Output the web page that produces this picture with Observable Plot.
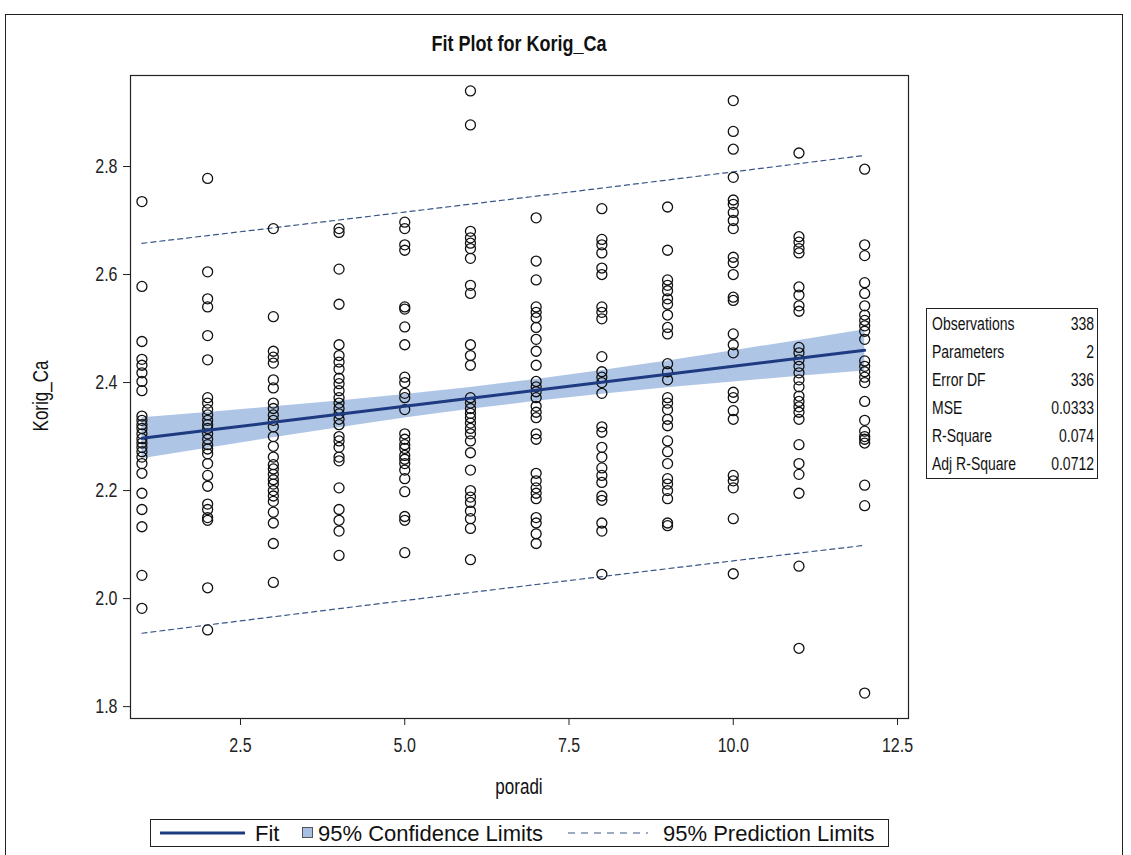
<!DOCTYPE html>
<html>
<head>
<meta charset="utf-8">
<script src="https://cdn.jsdelivr.net/npm/d3@7"></script>
<script src="https://cdn.jsdelivr.net/npm/@observablehq/plot@0.6"></script>
<style>
  html, body { margin: 0; padding: 0; background: #fff; overflow: hidden; }
  body { width: 1131px; height: 855px; position: relative; font-family: "Liberation Sans", Arial, sans-serif; color: #111; }
  #outer { position: absolute; left: 5px; top: 14px; width: 1118px; height: 900px; border: 1.5px solid #222; box-sizing: border-box; }
  #chart { position: absolute; left: 0; top: 0; }
  .tall { display: inline-block; transform-origin: 50% 50%; }
  #title { position: absolute; left: 0; width: 1038px; top: 34px; text-align: center; font-weight: bold; font-size: 18px; }
  #xlabel { position: absolute; left: 0; width: 1038px; top: 778px; text-align: center; font-size: 17px; }
  #ylabel { position: absolute; left: 42px; top: 396px; font-size: 17px; white-space: nowrap; }
  #stats { position: absolute; left: 926px; top: 308px; width: 172px; height: 171px; border: 1px solid #222; box-sizing: border-box; font-size: 14px; }
  #stats .row { position: absolute; left: 0; right: 0; height: 28px; line-height: 28px; }
  #stats .k { position: absolute; left: 5px; }
  #stats .v { position: absolute; right: 3px; }
  #legend { position: absolute; left: 150px; top: 819px; }
</style>
</head>
<body>
<div id="outer"></div>
<div id="chart"></div>
<div id="title"><span class="tall">Fit Plot for Korig_Ca</span></div>
<div id="xlabel"><span class="tall">poradi</span></div>
<div id="ylabel"></div>
<div id="stats"></div>
<svg id="legend" width="740" height="28"></svg>
<script>
// Measurement order (x) and Korig_Ca values measured at each position
const poradiValues = [1, 2, 3, 4, 5, 6, 7, 8, 9, 10, 11, 12];
const korigCa01 = [2.735, 2.578, 2.476, 2.443, 2.432, 2.418, 2.402, 2.385, 2.338, 2.330, 2.322, 2.315, 2.305, 2.296, 2.288, 2.280, 2.272, 2.262, 2.250, 2.232, 2.195, 2.165, 2.133, 2.043, 1.982];
const korigCa02 = [2.778, 2.605, 2.555, 2.540, 2.487, 2.442, 2.372, 2.362, 2.350, 2.340, 2.330, 2.322, 2.315, 2.305, 2.295, 2.285, 2.277, 2.268, 2.250, 2.228, 2.208, 2.175, 2.165, 2.150, 2.145, 2.020, 1.942];
const korigCa03 = [2.685, 2.522, 2.458, 2.447, 2.436, 2.405, 2.390, 2.362, 2.352, 2.340, 2.330, 2.318, 2.300, 2.282, 2.262, 2.248, 2.240, 2.230, 2.220, 2.212, 2.200, 2.190, 2.180, 2.160, 2.140, 2.102, 2.030];
const korigCa04 = [2.685, 2.678, 2.610, 2.545, 2.470, 2.450, 2.438, 2.425, 2.408, 2.398, 2.385, 2.372, 2.362, 2.352, 2.342, 2.332, 2.322, 2.300, 2.292, 2.280, 2.262, 2.255, 2.205, 2.165, 2.145, 2.125, 2.080];
const korigCa05 = [2.697, 2.685, 2.655, 2.645, 2.540, 2.536, 2.503, 2.470, 2.410, 2.400, 2.380, 2.372, 2.350, 2.305, 2.295, 2.285, 2.278, 2.265, 2.258, 2.250, 2.238, 2.222, 2.198, 2.152, 2.145, 2.085];
const korigCa06 = [2.940, 2.877, 2.680, 2.668, 2.658, 2.648, 2.630, 2.580, 2.565, 2.470, 2.450, 2.432, 2.372, 2.362, 2.352, 2.343, 2.335, 2.325, 2.315, 2.305, 2.292, 2.270, 2.238, 2.200, 2.188, 2.178, 2.162, 2.148, 2.130, 2.072];
const korigCa07 = [2.705, 2.625, 2.590, 2.540, 2.530, 2.520, 2.502, 2.480, 2.458, 2.432, 2.402, 2.392, 2.383, 2.372, 2.356, 2.345, 2.335, 2.305, 2.295, 2.232, 2.218, 2.205, 2.195, 2.185, 2.150, 2.140, 2.120, 2.102];
const korigCa08 = [2.722, 2.665, 2.655, 2.640, 2.612, 2.600, 2.540, 2.530, 2.518, 2.448, 2.420, 2.410, 2.400, 2.380, 2.318, 2.308, 2.280, 2.262, 2.242, 2.228, 2.215, 2.190, 2.182, 2.140, 2.125, 2.045];
const korigCa09 = [2.725, 2.645, 2.590, 2.580, 2.570, 2.555, 2.545, 2.525, 2.502, 2.490, 2.435, 2.420, 2.405, 2.372, 2.362, 2.350, 2.332, 2.320, 2.292, 2.272, 2.250, 2.222, 2.212, 2.200, 2.185, 2.140, 2.135];
const korigCa10 = [2.922, 2.865, 2.832, 2.780, 2.738, 2.730, 2.715, 2.700, 2.685, 2.632, 2.622, 2.600, 2.558, 2.552, 2.490, 2.470, 2.455, 2.382, 2.372, 2.348, 2.332, 2.228, 2.218, 2.205, 2.148, 2.046];
const korigCa11 = [2.825, 2.670, 2.660, 2.648, 2.640, 2.577, 2.562, 2.542, 2.532, 2.465, 2.455, 2.442, 2.430, 2.418, 2.405, 2.392, 2.375, 2.365, 2.355, 2.345, 2.332, 2.285, 2.250, 2.230, 2.195, 2.060, 1.908];
const korigCa12 = [2.795, 2.655, 2.635, 2.585, 2.565, 2.542, 2.525, 2.515, 2.505, 2.495, 2.480, 2.440, 2.430, 2.420, 2.410, 2.400, 2.365, 2.330, 2.310, 2.300, 2.295, 2.288, 2.210, 2.172, 1.825];

// Fitted regression line and its fit statistics
const fitIntercept = 2.282;
const fitSlope = 0.0148;
const statLabels = ["Observations", "Parameters", "Error DF", "MSE", "R-Square", "Adj R-Square"];
const statValues = ["338", "2", "336", "0.0333", "0.074", "0.0712"];
const tCritical = 1.967; // t(0.975, 336)

// Axis ticks
const xTicks = [2.5, 5.0, 7.5, 10.0, 12.5];
const yTicks = [1.8, 2.0, 2.2, 2.4, 2.6, 2.8];

const FONT = '"Liberation Sans", Arial, sans-serif';
const STRETCH = 1.25; // glyphs are drawn taller than wide

const columns = [korigCa01, korigCa02, korigCa03, korigCa04, korigCa05, korigCa06,
                 korigCa07, korigCa08, korigCa09, korigCa10, korigCa11, korigCa12];
const points = columns.flatMap((ys, i) => ys.map(y => ({poradi: poradiValues[i], korig: y})));

// Confidence and prediction limits around the fit
const mse = +statValues[3];
const n = points.length;
const xbar = d3.mean(points, d => d.poradi);
const sxx = d3.sum(points, d => (d.poradi - xbar) ** 2);
const band = poradiValues.map(x => {
  const fit = fitIntercept + fitSlope * x;
  const lev = 1 / n + (x - xbar) ** 2 / sxx;
  const ci = tCritical * Math.sqrt(mse * lev);
  const pi = tCritical * Math.sqrt(mse * (1 + lev));
  return {poradi: x, fit, ciLo: fit - ci, ciHi: fit + ci, piLo: fit - pi, piHi: fit + pi};
});

const fmt1 = d3.format(".1f");
const BAND_FILL = "#a6bfe3";
const FIT_STROKE = "#1e3a80";
const PRED_STROKE = "#3a5688";

const chart = Plot.plot({
  width: 1131,
  height: 805,
  marginLeft: 130,
  marginRight: 223,
  marginTop: 75,
  marginBottom: 87,
  x: {domain: [0.826, 12.667]},
  y: {domain: [1.778, 2.9685]},
  style: {fontFamily: FONT, background: "transparent", color: "#222", overflow: "visible"},
  marks: [
    Plot.areaY(band, {x: "poradi", y1: "ciLo", y2: "ciHi", fill: BAND_FILL, fillOpacity: 0.9}),
    Plot.line(band, {x: "poradi", y: "piLo", stroke: PRED_STROKE, strokeWidth: 1.2, strokeDasharray: "5,4"}),
    Plot.line(band, {x: "poradi", y: "piHi", stroke: PRED_STROKE, strokeWidth: 1.2, strokeDasharray: "5,4"}),
    Plot.dot(points, {x: "poradi", y: "korig", r: 5, stroke: "#111", strokeWidth: 1.3}),
    Plot.line(band, {x: "poradi", y: "fit", stroke: FIT_STROKE, strokeWidth: 3}),
    Plot.frame({stroke: "#222", strokeWidth: 1.2}),
    Plot.axisX({ticks: xTicks, tickFormat: fmt1, tickSize: 7, tickPadding: 12, fontSize: 16, label: null}),
    Plot.axisY({ticks: yTicks, tickFormat: fmt1, tickSize: 7, tickPadding: 6, fontSize: 16, label: null})
  ]
});
document.getElementById("chart").appendChild(chart);

// Stretch axis tick labels vertically about their anchor points
chart.querySelectorAll("g[aria-label$='tick label'] text").forEach(t => {
  const tr = t.getAttribute("transform") || "";
  t.setAttribute("transform", tr + ` scale(1,${STRETCH})`);
});

document.querySelectorAll(".tall").forEach(s => s.style.transform = `scaleY(${STRETCH})`);

// Y axis label, rotated
const yl = document.getElementById("ylabel");
const ySpan = document.createElement("span");
ySpan.textContent = "Korig_Ca";
ySpan.style.position = "absolute";
ySpan.style.transform = `translate(-50%,-50%) rotate(-90deg) scaleY(${STRETCH})`;
yl.appendChild(ySpan);

// Fit statistics table
const stats = document.getElementById("stats");
statLabels.forEach((label, i) => {
  const row = document.createElement("div");
  row.className = "row";
  row.style.top = (i * 28 + 1) + "px";
  const k = document.createElement("span");
  k.className = "k tall";
  k.textContent = label;
  k.style.transform = `scaleY(${STRETCH})`;
  const v = document.createElement("span");
  v.className = "v tall";
  v.textContent = statValues[i];
  v.style.transform = `scaleY(${STRETCH})`;
  row.appendChild(k);
  row.appendChild(v);
  stats.appendChild(row);
});

// Legend
const lg = d3.select("#legend");
lg.append("rect").attr("x", 0.5).attr("y", 0.5).attr("width", 738).attr("height", 27)
  .attr("fill", "#fff").attr("stroke", "#222");
lg.append("line").attr("x1", 10).attr("x2", 95).attr("y1", 14).attr("y2", 14)
  .attr("stroke", FIT_STROKE).attr("stroke-width", 3);
const legendText = (x, s) => lg.append("text").attr("x", x).attr("y", 21.5)
  .attr("font-family", FONT).attr("font-size", 22).attr("fill", "#111").text(s);
legendText(105, "Fit");
lg.append("rect").attr("x", 152.5).attr("y", 8.5).attr("width", 10).attr("height", 10)
  .attr("fill", BAND_FILL).attr("stroke", "#555");
legendText(168, "95% Confidence Limits");
lg.append("line").attr("x1", 418).attr("x2", 498).attr("y1", 14).attr("y2", 14)
  .attr("stroke", PRED_STROKE).attr("stroke-width", 1.2).attr("stroke-dasharray", "7,6");
legendText(513, "95% Prediction Limits");
</script>
</body>
</html>
